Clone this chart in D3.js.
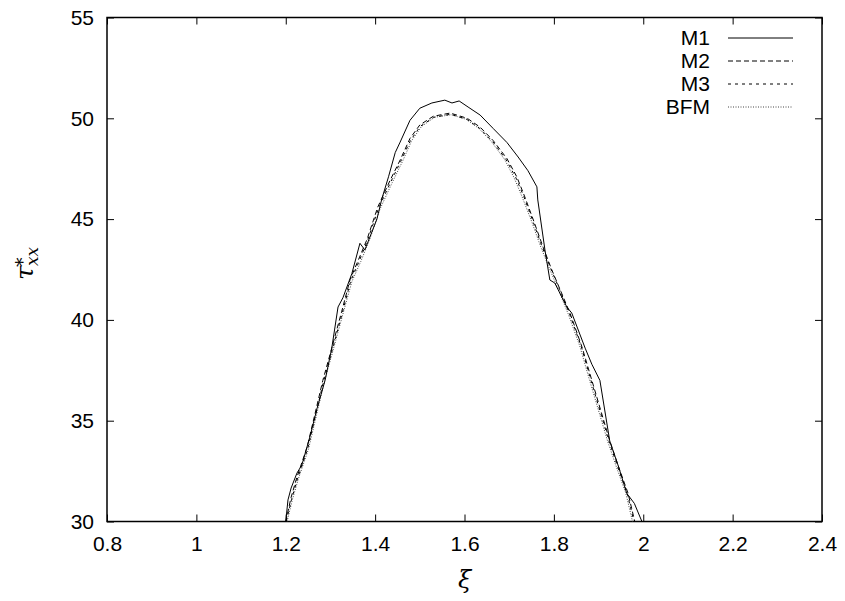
<!DOCTYPE html>
<html lang="en">
<head>
<meta charset="UTF-8">
<title>tau_xx vs xi</title>
<script src="https://d3js.org/d3.v7.min.js"></script>
<style>
  body { margin: 0; background: #fff; }
  svg { display: block; }
  .tick-label { font-family: "Liberation Sans", Arial, sans-serif; font-size: 21px; fill: #000; }
  .math { font-family: "DejaVu Serif", "Liberation Serif", serif; font-style: italic; fill: #000; }
</style>
</head>
<body>
<svg width="845" height="601"></svg>
<script>
// tick values
const xTicks = [0.8, 1.0, 1.2, 1.4, 1.6, 1.8, 2.0, 2.2, 2.4];
const yTicks = [30, 35, 40, 45, 50, 55];

// series
const seriesNames = ["M1", "M2", "M3", "BFM"];

const xiM1 = [1.200, 1.205, 1.212, 1.225, 1.236, 1.254, 1.270, 1.288, 1.303, 1.317, 1.328, 1.348, 1.366, 1.377, 1.404, 1.415, 1.430, 1.445, 1.456, 1.478, 1.500, 1.527, 1.556, 1.572, 1.588, 1.608, 1.635, 1.664, 1.695, 1.720, 1.742, 1.762, 1.764, 1.780, 1.791, 1.802, 1.829, 1.840, 1.870, 1.885, 1.903, 1.925, 1.945, 1.963, 1.980, 1.997];
const tauM1 = [30.0, 31.07, 31.66, 32.4, 32.8, 34.2, 35.6, 37.0, 38.6, 40.64, 41.1, 42.3, 43.8, 43.47, 45.0, 46.0, 47.1, 48.3, 48.82, 49.9, 50.5, 50.76, 50.9, 50.76, 50.86, 50.56, 50.16, 49.5, 48.8, 48.08, 47.4, 46.6, 45.95, 43.47, 41.98, 41.83, 40.64, 40.34, 38.6, 37.8, 37.0, 34.0, 32.7, 31.4, 30.9, 30.0];

const xiM2 = [1.200, 1.212, 1.225, 1.248, 1.265, 1.283, 1.303, 1.325, 1.344, 1.363, 1.382, 1.406, 1.433, 1.456, 1.478, 1.500, 1.530, 1.568, 1.606, 1.635, 1.664, 1.695, 1.717, 1.735, 1.755, 1.776, 1.795, 1.814, 1.836, 1.863, 1.885, 1.905, 1.925, 1.945, 1.966, 1.981];
const tauM2 = [30.0, 31.2, 32.2, 33.7, 35.3, 37.0, 38.6, 40.4, 42.0, 43.0, 44.0, 45.6, 46.9, 47.93, 49.0, 49.67, 50.1, 50.26, 50.0, 49.56, 48.9, 48.0, 47.1, 46.1, 44.9, 43.6, 42.5, 41.5, 40.34, 38.65, 37.0, 35.5, 34.0, 32.7, 31.4, 30.0];

const xiM3 = [1.201, 1.213, 1.226, 1.249, 1.266, 1.284, 1.304, 1.326, 1.345, 1.364, 1.384, 1.407, 1.434, 1.457, 1.479, 1.501, 1.531, 1.569, 1.605, 1.634, 1.663, 1.693, 1.715, 1.733, 1.753, 1.774, 1.794, 1.813, 1.835, 1.861, 1.883, 1.903, 1.923, 1.943, 1.964, 1.979];
const tauM3 = [30.0, 31.1, 32.1, 33.6, 35.2, 36.9, 38.5, 40.3, 41.9, 42.9, 44.0, 45.5, 46.8, 47.85, 48.9, 49.6, 50.05, 50.2, 49.95, 49.5, 48.85, 47.95, 47.05, 46.1, 44.9, 43.6, 42.5, 41.5, 40.3, 38.7, 37.0, 35.5, 34.0, 32.7, 31.4, 30.0];

const xiBFM = [1.203, 1.215, 1.228, 1.251, 1.268, 1.286, 1.306, 1.328, 1.348, 1.368, 1.388, 1.411, 1.438, 1.461, 1.482, 1.504, 1.533, 1.570, 1.604, 1.632, 1.660, 1.690, 1.711, 1.729, 1.750, 1.771, 1.791, 1.810, 1.832, 1.858, 1.880, 1.900, 1.920, 1.940, 1.961, 1.976];
const tauBFM = [30.0, 31.1, 32.1, 33.6, 35.2, 36.9, 38.5, 40.3, 41.9, 42.9, 44.0, 45.5, 46.8, 47.85, 48.9, 49.6, 50.05, 50.18, 49.95, 49.5, 48.85, 47.95, 47.05, 46.1, 44.9, 43.6, 42.5, 41.5, 40.3, 38.7, 37.0, 35.5, 34.0, 32.7, 31.4, 30.0];

const svg = d3.select("svg");
const plotLeft = 107, plotRight = 822, plotTop = 17.5, plotBottom = 521.5;

const x = d3.scaleLinear().domain([0.8, 2.4]).range([plotLeft, plotRight]);
const y = d3.scaleLinear().domain([30, 55]).range([plotBottom, plotTop]);

const tickLen = 7;

// inward ticks, on all four sides
const gx = svg.append("g").attr("transform", `translate(0,${plotBottom})`)
  .call(d3.axisBottom(x).tickValues(xTicks).tickSizeInner(-tickLen).tickSizeOuter(0).tickPadding(15)
    .tickFormat(d => d3.format("~g")(d)));
const gxTop = svg.append("g").attr("transform", `translate(0,${plotTop})`)
  .call(d3.axisTop(x).tickValues(xTicks).tickSizeInner(-tickLen).tickSizeOuter(0).tickFormat(""));
const gy = svg.append("g").attr("transform", `translate(${plotLeft},0)`)
  .call(d3.axisLeft(y).tickValues(yTicks).tickSizeInner(-tickLen).tickSizeOuter(0).tickPadding(13));
const gyRight = svg.append("g").attr("transform", `translate(${plotRight},0)`)
  .call(d3.axisRight(y).tickValues(yTicks).tickSizeInner(-tickLen).tickSizeOuter(0).tickFormat(""));

[gx, gxTop, gy, gyRight].forEach(g => {
  g.select(".domain").remove();
  g.selectAll("line").attr("stroke", "#000").attr("stroke-width", 1);
  g.selectAll("text").attr("class", "tick-label");
  g.attr("font-family", null).attr("font-size", null);
});
gx.selectAll("text").attr("dy", "0.71em");

// frame
svg.append("rect")
  .attr("x", plotLeft).attr("y", plotTop)
  .attr("width", plotRight - plotLeft).attr("height", plotBottom - plotTop)
  .attr("fill", "none").attr("stroke", "#000").attr("stroke-width", 1.5);

// curves
const styles = {
  M1: { dash: null, color: "#000" },
  M2: { dash: "5,3", color: "#000" },
  M3: { dash: "3,4", color: "#000" },
  BFM: { dash: "1,1.5", color: "#444" }
};
const seriesData = {
  M1: d3.zip(xiM1, tauM1),
  M2: d3.zip(xiM2, tauM2),
  M3: d3.zip(xiM3, tauM3),
  BFM: d3.zip(xiBFM, tauBFM)
};

const line = d3.line().x(d => x(d[0])).y(d => y(d[1]));

const plot = svg.append("g");
seriesNames.slice().reverse().forEach(name => {
  plot.append("path")
    .datum(seriesData[name])
    .attr("fill", "none")
    .attr("stroke", styles[name].color)
    .attr("stroke-width", 1)
    .attr("stroke-dasharray", styles[name].dash)
    .attr("d", line);
});

// legend
const legend = svg.append("g");
seriesNames.forEach((name, i) => {
  const cy = 38 + i * 23;
  legend.append("text")
    .attr("class", "tick-label")
    .attr("x", 710).attr("y", cy)
    .attr("dy", "0.35em")
    .attr("text-anchor", "end")
    .text(name);
  legend.append("line")
    .attr("x1", 728).attr("x2", 793)
    .attr("y1", cy).attr("y2", cy)
    .attr("stroke", styles[name].color)
    .attr("stroke-width", 1)
    .attr("stroke-dasharray", styles[name].dash);
});

// axis titles
svg.append("text")
  .attr("class", "math")
  .attr("x", (plotLeft + plotRight) / 2).attr("y", 588)
  .attr("text-anchor", "middle")
  .attr("font-size", 24)
  .text("ξ");

const yl = svg.append("g").attr("transform", "translate(33,280) rotate(-90)");
yl.append("text").attr("class", "math").attr("font-size", 25).attr("x", 0).attr("y", 0).text("τ");
yl.append("text").attr("class", "math").attr("font-style", "normal").attr("font-size", 19).attr("x", 13).attr("y", -4).text("*");
yl.append("text").attr("class", "math").attr("font-size", 17).attr("x", 14).attr("y", 5).text("xx");
</script>
</body>
</html>
